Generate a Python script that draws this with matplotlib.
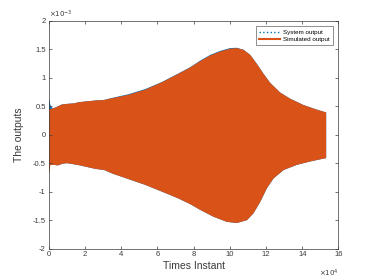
import matplotlib
matplotlib.use("Agg")
import matplotlib.pyplot as plt
from matplotlib.lines import Line2D
from matplotlib.ticker import MultipleLocator, FuncFormatter

plt.rcParams['font.family'] = ['Liberation Sans', 'DejaVu Sans']
plt.rcParams['axes.unicode_minus'] = False

# Upper envelope: x positions (units of 1e4 samples) and values (units 1e-3)
x_upper = [0.0, 0.1, 0.22, 0.4, 0.59, 0.74, 1.0, 1.42, 1.66, 2.58, 3.07, 3.5, 4.41,
           5.33, 6.26, 7.17, 7.82, 8.37, 8.92, 9.47, 10.02, 10.39, 10.76, 11.13, 11.5,
           11.86, 12.23, 12.78, 13.34, 14.07, 14.8, 15.32]
sim_upper = [0.45, 0.45, 0.46, 0.48, 0.51, 0.53, 0.54, 0.55, 0.57, 0.60, 0.61, 0.64, 0.70,
             0.79, 0.92, 1.07, 1.18, 1.29, 1.39, 1.46, 1.51, 1.52, 1.49, 1.40, 1.24,
             1.07, 0.91, 0.74, 0.63, 0.52, 0.44, 0.39]
sys_upper = [0.66, 0.52, 0.46, 0.48, 0.51, 0.53, 0.54, 0.55, 0.57, 0.60, 0.61, 0.645, 0.71,
             0.80, 0.925, 1.075, 1.185, 1.30, 1.40, 1.47, 1.52, 1.525, 1.49, 1.40, 1.24,
             1.07, 0.91, 0.74, 0.63, 0.52, 0.44, 0.39]

# Lower envelope
x_lower = [0.0, 0.1, 0.31, 0.5, 0.77, 1.0, 1.6, 2.58, 3.07, 3.5, 4.41, 5.33, 6.26,
           7.17, 7.82, 8.37, 9.1, 9.84, 10.39, 10.95, 11.31, 11.68, 12.05, 12.41, 12.97,
           13.7, 14.44, 15.32]
sim_lower = [-0.74, -0.53, -0.53, -0.54, -0.51, -0.50, -0.53, -0.60, -0.62, -0.68, -0.78,
             -0.88, -1.00, -1.12, -1.22, -1.32, -1.44, -1.53, -1.55, -1.50, -1.38, -1.18,
             -0.94, -0.77, -0.62, -0.53, -0.47, -0.41]
sys_lower = [-0.53, -0.53, -0.53, -0.54, -0.51, -0.50, -0.53, -0.60, -0.62, -0.68, -0.78,
             -0.88, -1.00, -1.12, -1.22, -1.32, -1.44, -1.53, -1.55, -1.50, -1.38, -1.18,
             -0.94, -0.77, -0.62, -0.53, -0.47, -0.41]

blue = '#0072BD'
orange = '#D95319'
axcol = '#3a3a3a'

fig = plt.figure(figsize=(3.74, 2.8), dpi=100)
ax = fig.add_axes([0.13, 0.112, 0.775, 0.814])

ax.fill(x_upper + x_lower[::-1], sys_upper + sys_lower[::-1], color=blue, lw=0)
ax.fill(x_upper + x_lower[::-1], sim_upper + sim_lower[::-1], color=orange, lw=0)

ax.set_xlim(0, 16)
ax.set_ylim(-2, 2)
ax.xaxis.set_major_locator(MultipleLocator(2))
ax.yaxis.set_major_locator(MultipleLocator(0.5))
ax.yaxis.set_major_formatter(FuncFormatter(lambda v, p: ('%g' % v)))
ax.xaxis.set_major_formatter(FuncFormatter(lambda v, p: ('%g' % v)))

for s in ax.spines.values():
    s.set_color(axcol)
    s.set_linewidth(0.5)
ax.tick_params(direction='in', length=2.5, width=0.5, colors=axcol, labelsize=5.5,
               top=True, right=True, pad=2)

ax.set_xlabel('Times Instant', fontsize=7.5, color=axcol, labelpad=2)
ax.set_ylabel('The outputs', fontsize=7.5, color=axcol, labelpad=6)

ax.text(0.0, 1.005, r'$\times10^{-3}$', transform=ax.transAxes, fontsize=5,
        ha='left', va='bottom', color=axcol)
ax.text(1.0, -0.085, r'$\times10^{4}$', transform=ax.transAxes, fontsize=5,
        ha='right', va='top', color=axcol)

handles = [Line2D([], [], color=blue, ls=':', lw=1.0),
           Line2D([], [], color=orange, ls='-', lw=1.5)]
leg = ax.legend(handles, ['System output', 'Simulated output'], loc='upper right',
                fontsize=4.5, frameon=True, fancybox=False, edgecolor=axcol,
                borderaxespad=0.9, handlelength=3.4, borderpad=0.5, labelspacing=0.25,
                handletextpad=0.5)
leg.get_frame().set_linewidth(0.5)

fig.savefig('out.png', dpi=100)
